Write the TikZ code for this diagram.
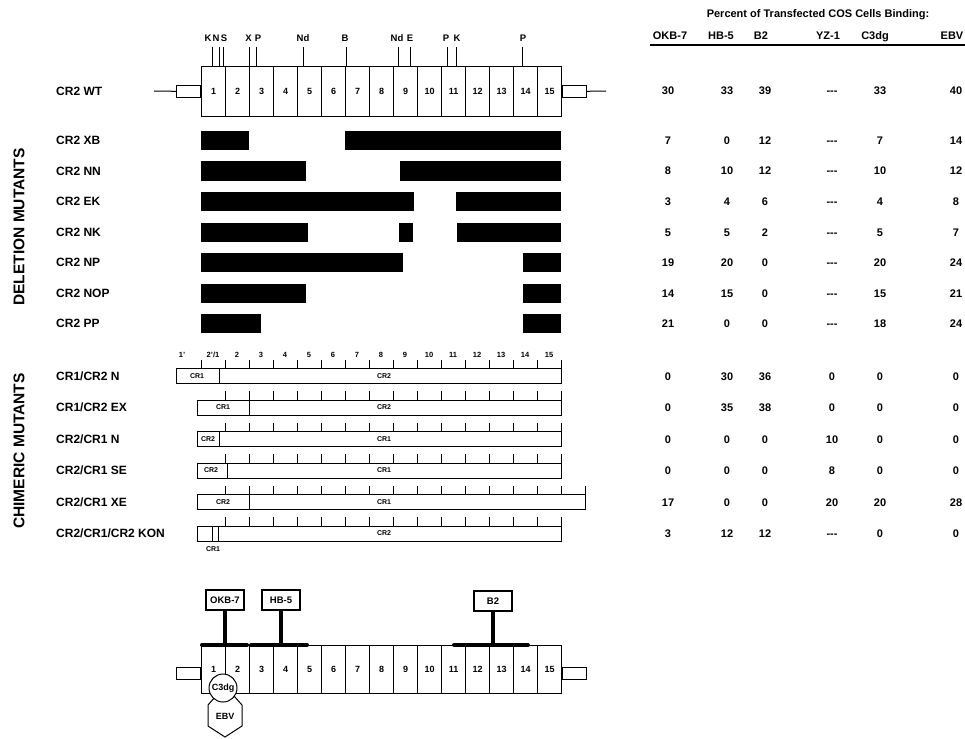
\documentclass[tikz,border=0pt]{standalone}
\usepackage{fontspec}
\setmainfont{Liberation Sans}
\usetikzlibrary{positioning}
\newcommand{\nodat}{-{}-{}-}
\tikzset{
  lbl/.style={font=\fontsize{12}{12}\selectfont\bfseries, anchor=west, inner sep=0pt},
  val/.style={font=\fontsize{11}{11}\selectfont\bfseries, inner sep=0pt, text height=8pt, text depth=0pt},
  hdr/.style={font=\fontsize{11}{11}\selectfont\bfseries, inner sep=0pt, text height=8pt, text depth=2pt},
  site/.style={font=\fontsize{9.5}{10}\selectfont\bfseries, inner sep=0pt},
  rul/.style={font=\fontsize{7.5}{8}\selectfont\bfseries, inner sep=0pt},
  seg/.style={font=\fontsize{7}{7}\selectfont\bfseries, inner sep=0pt},
  sidelbl/.style={font=\fontsize{15.5}{16}\selectfont\bfseries, rotate=90, inner sep=0pt},
  dom/.style={draw, line width=1pt, minimum width=24pt, minimum height=50pt, inner sep=0pt, anchor=north west, font=\fontsize{9}{10}\selectfont\bfseries},
  stub/.style={draw, line width=1pt, minimum width=24pt, minimum height=12pt, inner sep=0pt},
  ab/.style={draw, line width=1.3pt, minimum width=38pt, minimum height=20pt, inner sep=0pt, font=\fontsize{9.5}{10}\selectfont\bfseries},
  abstem/.style={line width=4pt},
  hold/.style={line width=4pt, line cap=round},
  chim/.style={draw, line width=0.9pt},
}
\begin{document}
\begin{tikzpicture}[x=1pt, y=-1pt]
\useasboundingbox (0,0) rectangle (965,738);

\node[sidelbl] (del) at (19,227) {DELETION MUTANTS};
\node[sidelbl] (chi) at (19,451) {CHIMERIC MUTANTS};

\node[lbl] (lwt) at (56,91) {CR2 WT};
\foreach \y/\t [count=\k] in {140.5/{CR2 XB}, 171/{CR2 NN}, 201.5/{CR2 EK}, 232/{CR2 NK}, 262.5/{CR2 NP}, 293/{CR2 NOP}, 323.5/{CR2 PP},
  376/{CR1/CR2 N}, 407.5/{CR1/CR2 EX}, 439/{CR2/CR1 N}, 470.5/{CR2/CR1 SE}, 502/{CR2/CR1 XE}, 533.5/{CR2/CR1/CR2 KON}}
  \node[lbl] (l\k) at (56,\y) {\t};

\foreach \i in {1,...,15} \node[dom] (w\i) at ({201+24*(\i-1)},66) {\raisebox{-2pt}{\i}};
\node[stub, anchor=east] (wl) at (w1.west) {};
\node[stub, anchor=west] (wr) at (w15.east) {};
\coordinate (wle) at (154,91);
\coordinate (wre) at (606,91);
\draw[line width=1pt] (wle) -- (wl);
\draw[line width=1pt] (wr) -- (wre);

\foreach \x/\lx/\t [count=\k] in {212/208/K, 219/216/N, 223/224/S, 249/248.5/X, 256/258/P, 303/303/Nd, 346/345/B, 398/397/Nd, 410/410/E, 447/446/P, 456/457/K, 522/523/P} {
  \draw[line width=1pt] (\x,47) -- (\x,66);
  \node[site] (rs\k) at (\lx,38) {\t};
}

\foreach \y/\a/\b in {140.5/201/249, 140.5/345/561, 171/201/306, 171/400/561, 201.5/201/414, 201.5/456/561,
  232/201/308, 232/399/413, 232/457/561, 262.5/201/403, 262.5/523/561, 293/201/306, 293/523/561, 323.5/201/261, 323.5/523/561}
  \fill (\a,\y-9.5) rectangle (\b,\y+9.5);

\draw[chim] (176,368.5) rectangle (561,383.5);
\draw[chim] (219,368.5) -- (219,383.5);
\node[seg] (c1a) at (197,376) {CR1};
\node[seg] (c1b) at (384,376) {CR2};
\foreach \x in {201,225,...,561} \draw[line width=0.9pt] (\x,368.5) -- (\x,359.5);
\node[rul] (n1) at (182,355) {1'};
\node[rul] (n2) at (213,355) {2'/1};
\foreach \k in {2,...,15} \node[rul] (m\k) at ({237+24*(\k-2)},355) {\k};

\foreach \y/\d/\r/\xa/\ta/\tb [count=\k] in {407.5/249/561/223/CR1/CR2, 439/219/561/208/CR2/CR1, 470.5/227/561/211/CR2/CR1, 502/249/585/223/CR2/CR1} {
  \draw[chim] (197,\y-7.5) rectangle (\r,\y+7.5);
  \draw[chim] (\d,\y-7.5) -- (\d,\y+7.5);
  \node[seg] (ca\k) at (\xa,\y) {\ta};
  \node[seg] (cb\k) at (384,\y) {\tb};
  \foreach \x in {225,249,...,\r} \draw[line width=0.9pt] (\x,\y-7.5) -- (\x,\y-16.5);
}

\draw[chim] (197,526) rectangle (561,541);
\draw[chim] (212,526) -- (212,541);
\draw[chim] (218,526) -- (218,541);
\node[seg] (c6b) at (384,533.5) {CR2};
\node[seg] (c6a) at (213,549) {CR1};
\foreach \x in {225,249,...,561} \draw[line width=0.9pt] (\x,526) -- (\x,517);

\node[font=\fontsize{11}{11}\selectfont\bfseries] (ttl) at (818,15) {Percent of Transfected COS Cells Binding:};
\foreach \x/\t [count=\k] in {670/OKB-7, 721/HB-5, 761/B2, 828/YZ-1, 875/C3dg, 952/EBV}
  \node[hdr] (h\k) at (\x,37) {\t};
\draw[line width=1.3pt] (650,45) -- (965,45);

\foreach \y/\a/\b/\c/\d/\e/\f [count=\k] in {91/30/33/39/\nodat/33/40, 140.5/7/0/12/\nodat/7/14, 171/8/10/12/\nodat/10/12,
  201.5/3/4/6/\nodat/4/8, 232/5/5/2/\nodat/5/7, 262.5/19/20/0/\nodat/20/24, 293/14/15/0/\nodat/15/21, 323.5/21/0/0/\nodat/18/24,
  376/0/30/36/0/0/0, 407.5/0/35/38/0/0/0, 439/0/0/0/10/0/0, 470.5/0/0/0/8/0/0, 502/17/0/0/20/20/28, 533.5/3/12/12/\nodat/0/0} {
  \node[val] (v\k a) at (668,\y) {\a};
  \node[val] (v\k b) at (727,\y) {\b};
  \node[val] (v\k c) at (765,\y) {\c};
  \node[val] (v\k d) at (832,\y) {\d};
  \node[val] (v\k e) at (880,\y) {\e};
  \node[val] (v\k f) at (956,\y) {\f};
}

\foreach \i in {1,...,15} \node[dom, minimum height=48pt] (b\i) at ({201+24*(\i-1)},645) {\raisebox{-3pt}{\i}};
\node[stub, anchor=east] (bl) at ([yshift=-4pt]b1.west) {};
\node[stub, anchor=west] (br) at ([yshift=-4pt]b15.east) {};
\draw[hold] (202,645) -- (247,645);
\draw[hold] (251,645) -- (307,645);
\draw[hold] (454,645) -- (528,645);
\node[ab] (okb) at (225,600) {OKB-7};
\node[ab] (hb) at (281,600) {HB-5};
\node[ab] (btwo) at (493,601) {B2};
\coordinate (p1) at (225,645);
\coordinate (p2) at (281,645);
\coordinate (p3) at (493,645);
\draw[abstem] (okb) -- (p1);
\draw[abstem] (hb) -- (p2);
\draw[abstem] (btwo) -- (p3);
\draw[line width=1pt, fill=white] (216,696) -- (208,705) -- (208,726) -- (225,737) -- (242,726) -- (242,705) -- (234,696) -- cycle;
\node[font=\fontsize{9}{10}\selectfont\bfseries] (ebv) at (225,716) {EBV};
\node[draw, circle, fill=white, line width=1pt, minimum size=28pt, inner sep=0pt, font=\fontsize{9}{10}\selectfont\bfseries] (c3) at (223,688) {C3dg};
\end{tikzpicture}
\end{document}
